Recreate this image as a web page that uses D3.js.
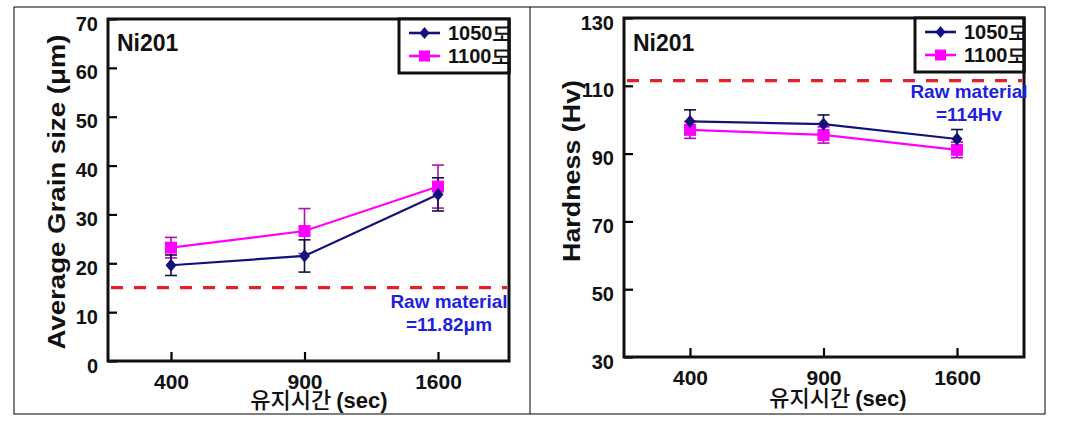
<!DOCTYPE html>
<html><head><meta charset="utf-8">
<script src="https://cdn.jsdelivr.net/npm/d3@7"></script>
<style>body{margin:0;background:#fff} svg{display:block}</style>
</head><body>
<svg id="c" width="1080" height="438"></svg>
<script>
// ---- data ----
const categories = ["400", "900", "1600"];
const seriesNames = ["1050도", "1100도"];
const grain1050 = [19.6, 21.5, 34.1];
const grain1050Err = [2.1, 3.3, 3.4];
const grain1100 = [23.2, 26.6, 35.7];
const grain1100Err = [2.1, 4.6, 4.4];
const grainTicks = [0, 10, 20, 30, 40, 50, 60, 70];
const grainRaw = 15.0;
const grainRawText = ["Raw material", "=11.82μm"];
const hard1050 = [99.5, 98.7, 94.3];
const hard1050Err = [3.4, 2.7, 2.8];
const hard1100 = [97.0, 95.5, 91.1];
const hard1100Err = [2.5, 2.4, 2.3];
const hardTicks = [30, 50, 70, 90, 110, 130];
const hardRaw = 111.5;
const hardRawText = ["Raw material", "=114Hv"];
const panelTitle = "Ni201";
const xTitleKo = "유지시간 ";
const xTitleEn = "(sec)";

// ---- styles ----
const FONT = "'Liberation Sans', Arial, sans-serif";
const KFONT = "'Noto Sans CJK KR', sans-serif";
const C1050 = "#12127a", C1050E = "#101040";
const C1100 = "#ff00ff", C1100E = "#b010b0";
const RED = "#e4202a", BLUE = "#1f1fe0";

const svg = d3.select("#c");
svg.append("rect").attr("x", 14).attr("y", 7).attr("width", 1031).attr("height", 407)
  .attr("fill", "none").attr("stroke", "#000").attr("stroke-width", 1);
svg.append("line").attr("x1", 530).attr("x2", 530).attr("y1", 7).attr("y2", 414)
  .attr("stroke", "#000").attr("stroke-width", 1);

function diamond(s) {
  return `M0,${-s * 1.2}L${s},0L0,${s * 1.2}L${-s},0Z`;
}

function drawPanel(cfg, idx) {
  const g = svg.append("g");
  const f = cfg.frame;
  const x = d3.scalePoint().domain(categories).range(cfg.xRange);
  const y = d3.scaleLinear().domain(cfg.yDomain).range([f.y1, f.y0]);

  // axes
  const ya = g.append("g").attr("transform", `translate(${f.x0},0)`)
    .call(d3.axisLeft(y).tickValues(cfg.ticks).tickSize(-9).tickPadding(10).tickFormat(d3.format("d")));
  ya.select(".domain").remove();
  ya.selectAll("line").attr("stroke", "#000").attr("stroke-width", 2.2);
  ya.selectAll("text").attr("font-family", FONT).attr("font-weight", "bold")
    .attr("font-size", 20).attr("fill", "#111").attr("dy", "0.55em");

  const xa = g.append("g").attr("transform", `translate(0,${f.y1})`)
    .call(d3.axisBottom(x).tickSize(-9).tickPadding(13));
  xa.select(".domain").remove();
  xa.selectAll("line").attr("stroke", "#000").attr("stroke-width", 2.2);
  xa.selectAll("text").attr("font-family", FONT).attr("font-weight", "bold")
    .attr("font-size", 21).attr("fill", "#111");

  // raw material line
  g.append("line").attr("x1", f.x0 + 3).attr("x2", f.x1 - 2)
    .attr("y1", y(cfg.raw)).attr("y2", y(cfg.raw))
    .attr("stroke", RED).attr("stroke-width", 3.2).attr("stroke-dasharray", "12,11");

  // series
  const series = [
    { vals: cfg.s1100, err: cfg.e1100, color: C1100, ecolor: C1100E, shape: "square" },
    { vals: cfg.s1050, err: cfg.e1050, color: C1050, ecolor: C1050E, shape: "diamond" }
  ];
  series.forEach(s => {
    const pts = categories.map((c, i) => ({ c, v: s.vals[i], e: s.err[i] }));
    const eb = g.append("g");
    pts.forEach(p => {
      eb.append("line").attr("x1", x(p.c)).attr("x2", x(p.c))
        .attr("y1", y(p.v + p.e)).attr("y2", y(p.v - p.e))
        .attr("stroke", s.ecolor).attr("stroke-width", 1.6);
      [p.v + p.e, p.v - p.e].forEach(v => eb.append("line")
        .attr("x1", x(p.c) - 6).attr("x2", x(p.c) + 6).attr("y1", y(v)).attr("y2", y(v))
        .attr("stroke", s.ecolor).attr("stroke-width", 1.6));
    });
  });
  series.forEach(s => {
    const pts = categories.map((c, i) => ({ c, v: s.vals[i] }));
    g.append("path").datum(pts)
      .attr("d", d3.line().x(d => x(d.c)).y(d => y(d.v)))
      .attr("fill", "none").attr("stroke", s.color).attr("stroke-width", 2.2);
    pts.forEach(p => {
      if (s.shape === "square") {
        g.append("rect").attr("x", x(p.c) - 6).attr("y", y(p.v) - 6)
          .attr("width", 12).attr("height", 12).attr("fill", s.color);
      } else {
        g.append("path").attr("d", diamond(5.5))
          .attr("transform", `translate(${x(p.c)},${y(p.v)})`).attr("fill", s.color);
      }
    });
  });

  // frame
  g.append("rect").attr("x", f.x0).attr("y", f.y0).attr("width", f.x1 - f.x0)
    .attr("height", f.y1 - f.y0).attr("fill", "none").attr("stroke", "#111").attr("stroke-width", 3);

  // title inside
  g.append("text").attr("x", f.x0 + 9).attr("y", 51).text(panelTitle)
    .attr("font-family", FONT).attr("font-weight", "bold").attr("font-size", 23).attr("fill", "#111");

  // legend
  const lb = cfg.legend;
  const clipId = "lc" + idx;
  svg.append("clipPath").attr("id", clipId).append("rect")
    .attr("x", lb.x0).attr("y", lb.y0).attr("width", lb.x1 - lb.x0 - 1).attr("height", lb.y1 - lb.y0);
  g.append("rect").attr("x", lb.x0).attr("y", lb.y0).attr("width", lb.x1 - lb.x0)
    .attr("height", lb.y1 - lb.y0).attr("fill", "#fff").attr("stroke", "#111").attr("stroke-width", 3);
  const legItems = [
    { name: seriesNames[0], color: C1050, shape: "diamond", y: lb.y0 + 14 },
    { name: seriesNames[1], color: C1100, shape: "square", y: lb.y0 + 37 }
  ];
  legItems.forEach(it => {
    const lx0 = lb.x0 + 10, lx1 = lb.x0 + 41, mx = (lx0 + lx1) / 2;
    g.append("line").attr("x1", lx0).attr("x2", lx1).attr("y1", it.y).attr("y2", it.y)
      .attr("stroke", it.color).attr("stroke-width", 2.6);
    if (it.shape === "square") {
      g.append("rect").attr("x", mx - 5.5).attr("y", it.y - 5.5).attr("width", 11).attr("height", 11).attr("fill", it.color);
    } else {
      g.append("path").attr("d", diamond(5)).attr("transform", `translate(${mx},${it.y})`).attr("fill", it.color);
    }
    g.append("text").attr("x", lb.x0 + 49).attr("y", it.y + 7).text(it.name)
      .attr("clip-path", `url(#${clipId})`)
      .attr("font-family", FONT).attr("font-weight", "bold").attr("font-size", 20).attr("fill", "#111");
  });
  g.append("line").attr("x1", lb.x1).attr("x2", lb.x1).attr("y1", lb.y0).attr("y2", lb.y1)
    .attr("stroke", "#111").attr("stroke-width", 3);

  // raw material annotation
  cfg.rawText.forEach((t, i) => {
    g.append("text").attr("x", cfg.rawTextX).attr("y", cfg.rawTextY + i * 23).text(t)
      .attr("text-anchor", "middle").attr("font-family", FONT).attr("font-weight", "bold")
      .attr("font-size", 19).attr("fill", BLUE);
  });

  // axis titles
  g.append("text")
    .attr("transform", `translate(${cfg.yTitle.x},${cfg.yTitle.y}) rotate(-90)`)
    .attr("text-anchor", "middle").text(cfg.yTitle.text)
    .attr("textLength", cfg.yTitle.len).attr("lengthAdjust", "spacingAndGlyphs")
    .attr("font-family", FONT).attr("font-weight", "bold").attr("font-size", 24).attr("fill", "#111");

  const xt = g.append("text").attr("x", cfg.xTitle.x).attr("y", cfg.xTitle.y)
    .attr("text-anchor", "middle").attr("font-size", 22).attr("fill", "#111");
  xt.append("tspan").attr("font-family", KFONT).attr("font-weight", 500).text(xTitleKo);
  xt.append("tspan").attr("font-family", FONT).attr("font-weight", "bold").text(xTitleEn);
}

drawPanel({
  frame: { x0: 108, x1: 509, y0: 19, y1: 361 },
  xRange: [171, 438],
  yDomain: [0, 70], ticks: grainTicks, raw: grainRaw,
  s1050: grain1050, e1050: grain1050Err, s1100: grain1100, e1100: grain1100Err,
  legend: { x0: 399, x1: 509, y0: 19, y1: 73 },
  rawText: grainRawText, rawTextX: 449, rawTextY: 308,
  yTitle: { x: 65, y: 192, text: "Average Grain size (μm)", len: 315 },
  xTitle: { x: 319, y: 408 }
}, 0);

drawPanel({
  frame: { x0: 624, x1: 1024, y0: 18, y1: 357 },
  xRange: [690, 957],
  yDomain: [30, 130], ticks: hardTicks, raw: hardRaw,
  s1050: hard1050, e1050: hard1050Err, s1100: hard1100, e1100: hard1100Err,
  legend: { x0: 915, x1: 1024, y0: 18, y1: 72 },
  rawText: hardRawText, rawTextX: 969, rawTextY: 98,
  yTitle: { x: 580, y: 171, text: "Hardness (Hv)", len: 182 },
  xTitle: { x: 838, y: 406 }
}, 1);
</script>
</body></html>
